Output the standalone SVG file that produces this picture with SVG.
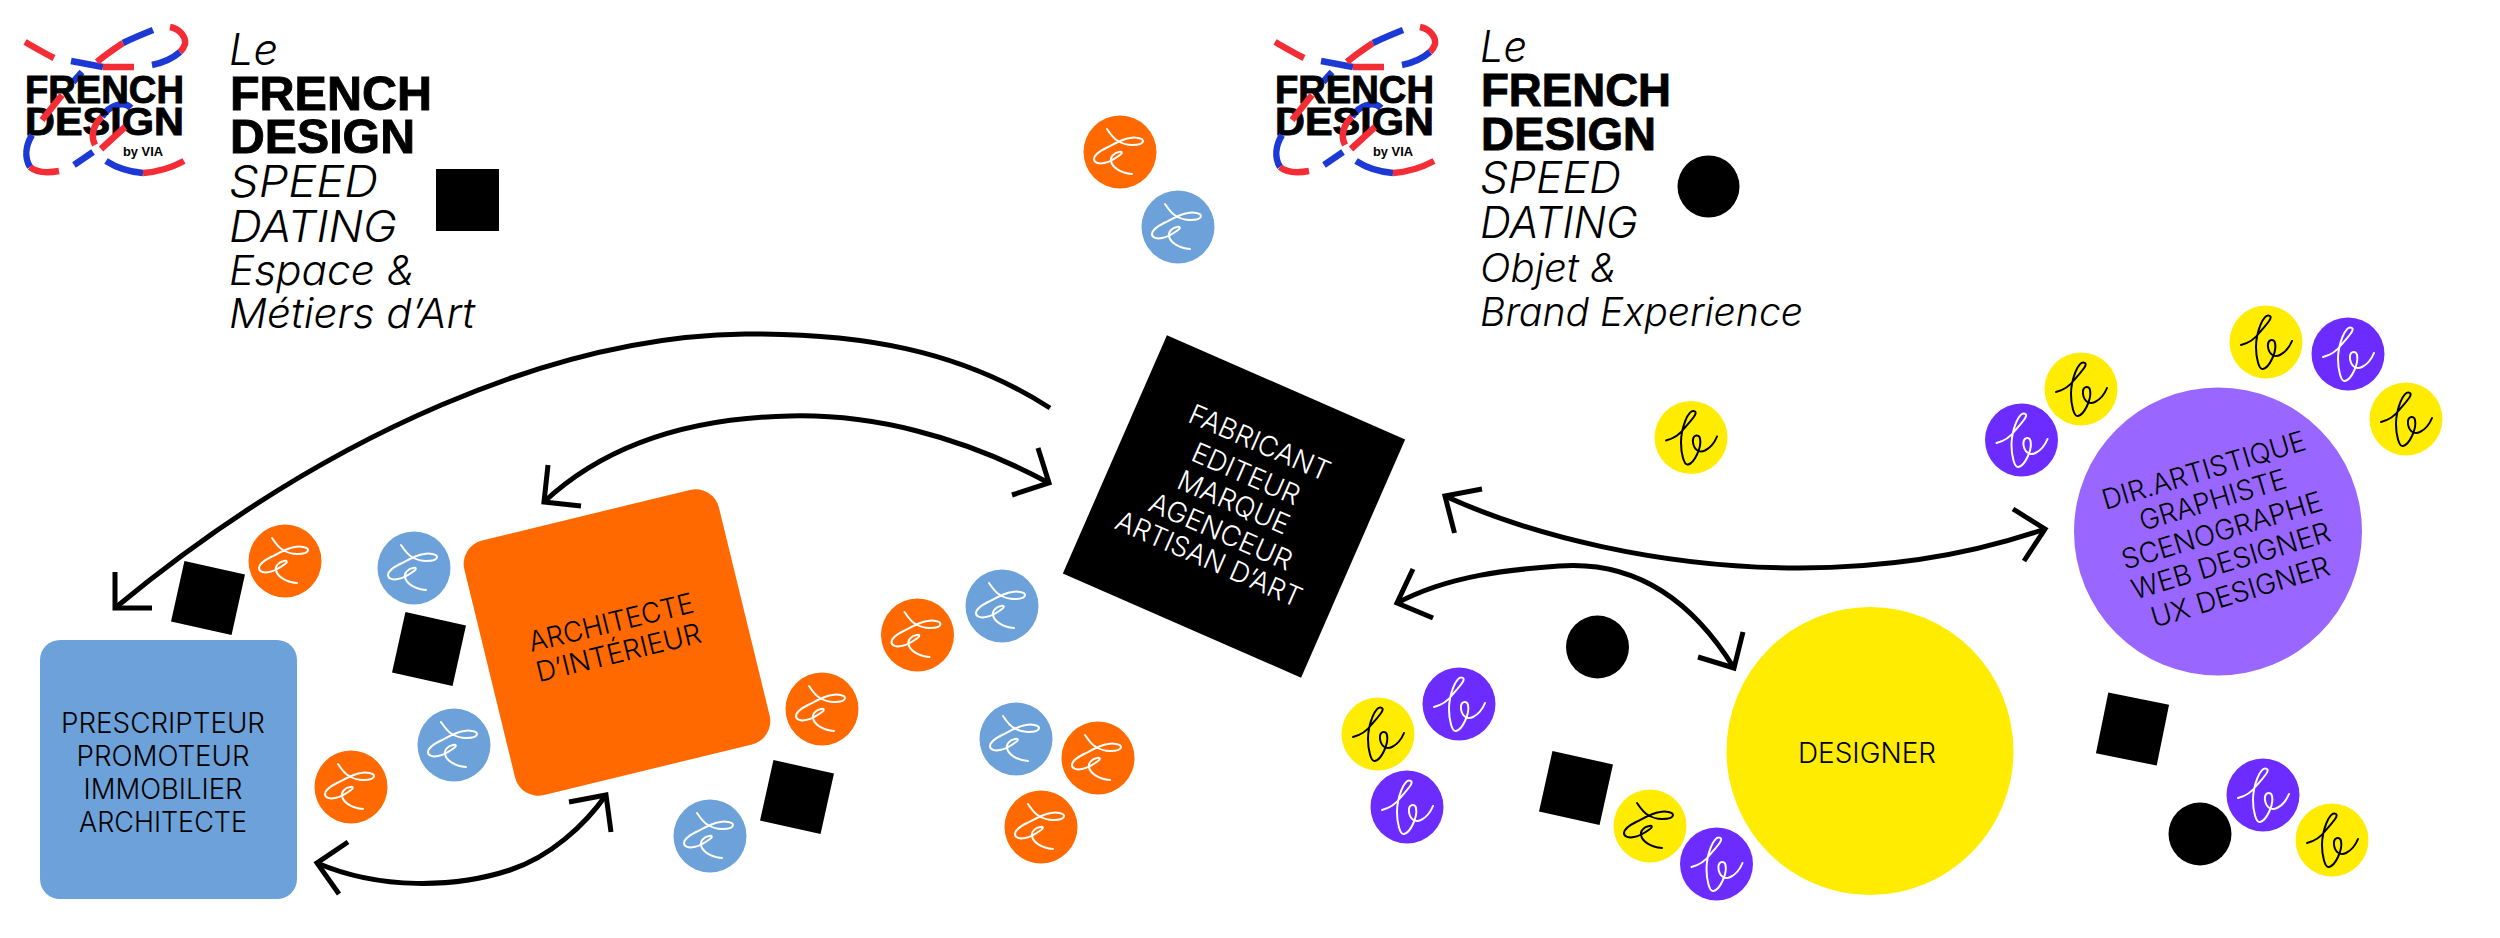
<svg xmlns="http://www.w3.org/2000/svg" width="2500" height="938" viewBox="0 0 2500 938">
<style>
.h{font-family:"Inter","Liberation Sans",sans-serif;font-weight:300;font-style:italic;fill:#000}
.b{font-family:"Liberation Sans",Arial,sans-serif;font-weight:700;fill:#000}
.fb{stroke:#000;stroke-width:.9}
.l{font-family:"Inter","Liberation Sans",sans-serif;font-weight:300;font-size:28px;text-anchor:middle;fill:#000}
.lw{fill:#fff}
.arrow{fill:none;stroke:#000;stroke-width:5}
.sig{fill:none;stroke-width:2;stroke-linecap:round;stroke-linejoin:round}
.w{stroke:#fff}.k{stroke:#000}
.lr{fill:none;stroke:#f42c35;stroke-width:6.5}
.lb{fill:none;stroke:#1c39d6;stroke-width:6.5}
.o{fill:#ff6900}.s{fill:#6ca2d9}.y{fill:#ffec00}.p{fill:#6c2bff}
</style>
<defs>
<path id="te" d="M-13,-23 C-9,-17 -6,-13 -2,-11 C3,-8 8,-7 12,-7 C17,-7 23,-8 23,-11 C23,-14 15,-15 10,-14 C2,-13 -6,-8 -14,-4 C-20,-1 -26,3 -26,7 C-26,11 -21,12 -16,11 C-10,10 -4,6 0,3 C3,1 2,-1 -1,0 C-6,1 -10,5 -9,9 C-8,15 0,21 12,22"/>
<path id="be" d="M-25,3 C-17,1 -11,-3 -6,-10 C-1,-16 7,-24 4,-26 C-3,-30 -10,-8 -10,5 C-10,16 -7,28 -3,27 C3,26 11,10 9,1 C8,-4 1,-3 2,5 C3,12 8,16 14,13 C20,10 24,4 26,-1"/>
<circle id="disc" r="36.5"/>
<rect id="sq" x="-31" y="-31" width="62" height="62"/>
<g id="logo">
<path class="lb" d="M82,72 L73,82"/>
<path class="lb" d="M102,117 C108,106 124,100 131,108"/>
<text class="b fb" x="25" y="103" font-size="38.4" textLength="159" lengthAdjust="spacingAndGlyphs">FRENCH</text>
<text class="b fb" x="25" y="135" font-size="38.4" textLength="159" lengthAdjust="spacingAndGlyphs">DESIGN</text>
<text class="b" x="123" y="156" font-size="13.5" textLength="40" lengthAdjust="spacingAndGlyphs">by VIA</text>
<path class="lr" d="M25,42 C34,47 44,53 54,58"/>
<path class="lb" d="M71,61 C82,63 92,65 103,67"/>
<path class="lr" d="M103,67 L134,67"/>
<path class="lr" d="M97,62 C105,55 114,49 123,43"/>
<path class="lb" d="M123,43 C133,38 143,34 153,30"/>
<path class="lr" d="M170,27 C180,29 186,37 185,44 C184,48 182,50 180,52"/>
<path class="lb" d="M180,52 C172,59 162,63 152,65"/>
<path class="lr" d="M62,95 L42,120"/>
<path class="lr" d="M102,117 C94,124 90,135 95,145"/>
<path class="lr" d="M125,127 L101,149"/>
<path class="lb" d="M93,152 L74,165"/>
<path class="lb" d="M32,135 C26,145 24,157 30,167"/>
<path class="lr" d="M30,167 C37,173 48,173 59,171"/>
<path class="lb" d="M106,161 C117,168 130,172 143,173"/>
<path class="lr" d="M143,173 C157,172 171,168 184,161"/>
</g>
</defs>

<g id="header-espace">
<use href="#logo"/>
<text class="h" x="229" y="65" font-size="44" textLength="49" lengthAdjust="spacingAndGlyphs">Le</text>
<text class="b fb" x="230" y="110" font-size="48" textLength="202" lengthAdjust="spacingAndGlyphs">FRENCH</text>
<text class="b fb" x="230" y="153" font-size="48" textLength="185" lengthAdjust="spacingAndGlyphs">DESIGN</text>
<text class="h" x="229" y="197" font-size="44" textLength="149" lengthAdjust="spacingAndGlyphs">SPEED</text>
<text class="h" x="229" y="242" font-size="44" textLength="168" lengthAdjust="spacingAndGlyphs">DATING</text>
<text class="h" x="229" y="285" font-size="41" textLength="186" lengthAdjust="spacingAndGlyphs">Espace &amp;</text>
<text class="h" x="229" y="328" font-size="41" textLength="246" lengthAdjust="spacingAndGlyphs">Métiers d’Art</text>
<rect x="436" y="169" width="63" height="62"/>
</g>
<g id="header-objet">
<use href="#logo" x="1250"/>
<text class="h" x="1480" y="62" font-size="44" textLength="47" lengthAdjust="spacingAndGlyphs">Le</text>
<text class="b fb" x="1481" y="106" font-size="45.6" textLength="190" lengthAdjust="spacingAndGlyphs">FRENCH</text>
<text class="b fb" x="1481" y="150" font-size="45.6" textLength="175" lengthAdjust="spacingAndGlyphs">DESIGN</text>
<text class="h" x="1480" y="193" font-size="44" textLength="141" lengthAdjust="spacingAndGlyphs">SPEED</text>
<text class="h" x="1480" y="238" font-size="44" textLength="158" lengthAdjust="spacingAndGlyphs">DATING</text>
<text class="h" x="1480" y="282" font-size="39" textLength="137" lengthAdjust="spacingAndGlyphs">Objet &amp;</text>
<text class="h" x="1480" y="326" font-size="39" textLength="323" lengthAdjust="spacingAndGlyphs">Brand Experience</text>
<circle cx="1708.5" cy="186.5" r="31"/>
</g>

<g id="connectors">
<path class="arrow" d="M1050,408 C960,350 860,333 745,334 C560,336 330,430 115,608"/>
<path class="arrow" d="M115,572 L115,608 L152,608"/>
<path class="arrow" d="M1049,483 C960,435 870,414 790,416 C690,418 605,445 544,502"/>
<path class="arrow" d="M1038,448 L1049,483 L1012,495"/>
<path class="arrow" d="M548,465 L544,502 L581,506"/>
<path class="arrow" d="M317,863 C380,890 455,888 510,870 C550,857 585,825 606,795"/>
<path class="arrow" d="M348,842 L317,863 L339,894"/>
<path class="arrow" d="M569,802 L606,795 L611,832"/>
<path class="arrow" d="M1445,496 C1530,535 1660,568 1799,568 C1890,568 1970,555 2045,529"/>
<path class="arrow" d="M1482,489 L1445,496 L1454.5,533"/>
<path class="arrow" d="M2013,509 L2045,529 L2024,561"/>
<path class="arrow" d="M1397,603 C1450,575 1510,569.6 1559,566 C1640,560 1695,605 1734,668"/>
<path class="arrow" d="M1413,569 L1397,603 L1433,618"/>
<path class="arrow" d="M1743,632 L1734,668 L1698,657"/>
</g>

<g id="node-prescripteur">
<rect x="40" y="640" width="257" height="259" rx="20" class="s"/>
<text class="l" x="163" y="733" textLength="204" lengthAdjust="spacingAndGlyphs">PRESCRIPTEUR</text>
<text class="l" x="163" y="766" textLength="173" lengthAdjust="spacingAndGlyphs">PROMOTEUR</text>
<text class="l" x="163" y="799" textLength="159" lengthAdjust="spacingAndGlyphs">IMMOBILIER</text>
<text class="l" x="163" y="832" textLength="168" lengthAdjust="spacingAndGlyphs">ARCHITECTE</text>
</g>
<g id="node-architecte" transform="translate(617,642.5) rotate(-13.7)">
<rect x="-131" y="-131" width="262" height="262" rx="24" class="o"/>
<text class="l" x="-1" y="-11" textLength="169" lengthAdjust="spacingAndGlyphs">ARCHITECTE</text>
<text class="l" x="-1" y="20" textLength="169" lengthAdjust="spacingAndGlyphs">D’INTÉRIEUR</text>
</g>
<g id="node-fabricant" transform="translate(1234,506.5) rotate(23.6)">
<rect x="-130" y="-130" width="260" height="260"/>
<text class="l lw" x="-2" y="-59" textLength="151" lengthAdjust="spacingAndGlyphs">FABRICANT</text>
<text class="l lw" x="-2" y="-25" textLength="115" lengthAdjust="spacingAndGlyphs">EDITEUR</text>
<text class="l lw" x="-2" y="6" textLength="119" lengthAdjust="spacingAndGlyphs">MARQUE</text>
<text class="l lw" x="-2" y="38" textLength="153" lengthAdjust="spacingAndGlyphs">AGENCEUR</text>
<text class="l lw" x="-2" y="68" textLength="200" lengthAdjust="spacingAndGlyphs">ARTISAN D’ART</text>
</g>
<g id="node-designer">
<ellipse cx="1870" cy="751" rx="143.5" ry="144" class="y"/>
<text class="l" x="1867" y="763" textLength="138" lengthAdjust="spacingAndGlyphs">DESIGNER</text>
</g>
<g id="node-direction">
<circle cx="2218" cy="531.5" r="144" fill="#9966ff"/>
<g transform="translate(2218,531.5) rotate(-16.7)">
<text class="l" x="4" y="-53" textLength="211" lengthAdjust="spacingAndGlyphs">DIR.ARTISTIQUE</text>
<text class="l" x="4" y="-22" textLength="152" lengthAdjust="spacingAndGlyphs">GRAPHISTE</text>
<text class="l" x="4" y="10" textLength="208" lengthAdjust="spacingAndGlyphs">SCENOGRAPHE</text>
<text class="l" x="4" y="41.5" textLength="206" lengthAdjust="spacingAndGlyphs">WEB DESIGNER</text>
<text class="l" x="4" y="74" textLength="185" lengthAdjust="spacingAndGlyphs">UX DESIGNER</text>
</g>
</g>

<!-- black markers -->
<g id="markers">
<use href="#sq" transform="translate(208,598) rotate(12.5)"/>
<use href="#sq" transform="translate(429,649) rotate(12.5)"/>
<use href="#sq" transform="translate(797,797) rotate(12.5)"/>
<use href="#sq" transform="translate(1576,788) rotate(12.5)"/>
<use href="#sq" transform="translate(2132.5,729) rotate(11.5)"/>
<circle cx="1597.5" cy="647" r="31.5"/>
<circle cx="2200" cy="834" r="31.5"/>
</g>

<!-- small signature discs: te = orange, blue, yellow; be = yellow, purple -->
<g id="discs">
<g transform="translate(285,561)"><use href="#disc" class="o"/><use href="#te" class="sig w"/></g>
<g transform="translate(414,568)"><use href="#disc" class="s"/><use href="#te" class="sig w"/></g>
<g transform="translate(454,745)"><use href="#disc" class="s"/><use href="#te" class="sig w"/></g>
<g transform="translate(351,787)"><use href="#disc" class="o"/><use href="#te" class="sig w"/></g>
<g transform="translate(710,836)"><use href="#disc" class="s"/><use href="#te" class="sig w"/></g>
<g transform="translate(822,709)"><use href="#disc" class="o"/><use href="#te" class="sig w"/></g>
<g transform="translate(917.5,635)"><use href="#disc" class="o"/><use href="#te" class="sig w"/></g>
<g transform="translate(1002,606)"><use href="#disc" class="s"/><use href="#te" class="sig w"/></g>
<g transform="translate(1016,739)"><use href="#disc" class="s"/><use href="#te" class="sig w"/></g>
<g transform="translate(1098,758)"><use href="#disc" class="o"/><use href="#te" class="sig w"/></g>
<g transform="translate(1041,827)"><use href="#disc" class="o"/><use href="#te" class="sig w"/></g>
<g transform="translate(1120,152)"><use href="#disc" class="o"/><use href="#te" class="sig w"/></g>
<g transform="translate(1178,227)"><use href="#disc" class="s"/><use href="#te" class="sig w"/></g>
<g transform="translate(1650,826)"><use href="#disc" class="y"/><use href="#te" class="sig k"/></g>
<g transform="translate(1691,437.5)"><use href="#disc" class="y"/><use href="#be" class="sig k"/></g>
<g transform="translate(1378,734)"><use href="#disc" class="y"/><use href="#be" class="sig k"/></g>
<g transform="translate(1459,704)"><use href="#disc" class="p"/><use href="#be" class="sig w"/></g>
<g transform="translate(1407,807)"><use href="#disc" class="p"/><use href="#be" class="sig w"/></g>
<g transform="translate(1716.5,864)"><use href="#disc" class="p"/><use href="#be" class="sig w"/></g>
<g transform="translate(2266,342)"><use href="#disc" class="y"/><use href="#be" class="sig k"/></g>
<g transform="translate(2348,354)"><use href="#disc" class="p"/><use href="#be" class="sig w"/></g>
<g transform="translate(2406,419)"><use href="#disc" class="y"/><use href="#be" class="sig k"/></g>
<g transform="translate(2081,389)"><use href="#disc" class="y"/><use href="#be" class="sig k"/></g>
<g transform="translate(2021.5,440)"><use href="#disc" class="p"/><use href="#be" class="sig w"/></g>
<g transform="translate(2263,795)"><use href="#disc" class="p"/><use href="#be" class="sig w"/></g>
<g transform="translate(2332,840)"><use href="#disc" class="y"/><use href="#be" class="sig k"/></g>
</g>
</svg>
